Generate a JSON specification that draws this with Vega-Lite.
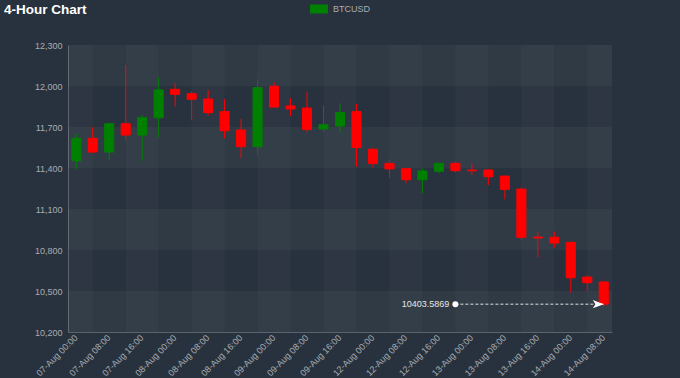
{
  "$schema": "https://vega.github.io/schema/vega-lite/v6.json",
  "width": 544,
  "height": 287,
  "autosize": "none",
  "padding": {"left": 68, "top": 45, "right": 68, "bottom": 46},
  "background": "#28323e",
  "title": {"text": "4-Hour Chart", "anchor": "start", "frame": "group", "dx": -64, "dy": 27, "offset": 0, "baseline": "alphabetic", "fontSize": 13.5, "fontWeight": "bold", "color": "#ffffff", "font": "Liberation Sans"},
  "config": {
    "view": {"fill": "#2f3944", "stroke": null},
    "font": "Liberation Sans",
    "axis": {"labelFont": "Liberation Sans", "labelFontSize": 9, "labelColor": "#a8adb2", "ticks": false, "grid": false, "domainColor": "#5a636d", "domainWidth": 1},
    "axisX": {"labelOffset": -3, "labelPadding": 1}
  },
  "datasets": {
    "candles": [
      {"t": "07-Aug 00:00", "o": 11453, "h": 11654, "l": 11390, "c": 11617},
      {"t": "07-Aug 04:00", "o": 11617, "h": 11698, "l": 11508, "c": 11517},
      {"t": "07-Aug 08:00", "o": 11517, "h": 11731, "l": 11453, "c": 11724},
      {"t": "07-Aug 12:00", "o": 11724, "h": 12154, "l": 11600, "c": 11641},
      {"t": "07-Aug 16:00", "o": 11641, "h": 11786, "l": 11453, "c": 11768},
      {"t": "07-Aug 20:00", "o": 11768, "h": 12064, "l": 11625, "c": 11971},
      {"t": "08-Aug 00:00", "o": 11976, "h": 12020, "l": 11849, "c": 11939},
      {"t": "08-Aug 04:00", "o": 11944, "h": 11961, "l": 11749, "c": 11903},
      {"t": "08-Aug 08:00", "o": 11905, "h": 11971, "l": 11783, "c": 11805},
      {"t": "08-Aug 12:00", "o": 11812, "h": 11903, "l": 11617, "c": 11673},
      {"t": "08-Aug 16:00", "o": 11678, "h": 11759, "l": 11471, "c": 11556},
      {"t": "08-Aug 20:00", "o": 11556, "h": 12049, "l": 11493, "c": 11988},
      {"t": "09-Aug 00:00", "o": 11998, "h": 12031, "l": 11843, "c": 11846},
      {"t": "09-Aug 04:00", "o": 11854, "h": 11910, "l": 11780, "c": 11832},
      {"t": "09-Aug 08:00", "o": 11839, "h": 11958, "l": 11661, "c": 11683},
      {"t": "09-Aug 12:00", "o": 11685, "h": 11856, "l": 11666, "c": 11717},
      {"t": "09-Aug 16:00", "o": 11707, "h": 11873, "l": 11661, "c": 11805},
      {"t": "09-Aug 20:00", "o": 11812, "h": 11868, "l": 11410, "c": 11551},
      {"t": "12-Aug 00:00", "o": 11537, "h": 11546, "l": 11405, "c": 11434},
      {"t": "12-Aug 04:00", "o": 11434, "h": 11464, "l": 11325, "c": 11393},
      {"t": "12-Aug 08:00", "o": 11395, "h": 11400, "l": 11288, "c": 11314},
      {"t": "12-Aug 12:00", "o": 11314, "h": 11398, "l": 11215, "c": 11378},
      {"t": "12-Aug 16:00", "o": 11376, "h": 11436, "l": 11361, "c": 11434},
      {"t": "12-Aug 20:00", "o": 11434, "h": 11451, "l": 11366, "c": 11380},
      {"t": "13-Aug 00:00", "o": 11385, "h": 11434, "l": 11349, "c": 11380},
      {"t": "13-Aug 04:00", "o": 11385, "h": 11393, "l": 11276, "c": 11336},
      {"t": "13-Aug 08:00", "o": 11341, "h": 11341, "l": 11171, "c": 11244},
      {"t": "13-Aug 12:00", "o": 11246, "h": 11259, "l": 10868, "c": 10893},
      {"t": "13-Aug 16:00", "o": 10895, "h": 10934, "l": 10747, "c": 10888},
      {"t": "13-Aug 20:00", "o": 10893, "h": 10934, "l": 10817, "c": 10851},
      {"t": "14-Aug 00:00", "o": 10856, "h": 10859, "l": 10488, "c": 10597},
      {"t": "14-Aug 04:00", "o": 10602, "h": 10615, "l": 10500, "c": 10561},
      {"t": "14-Aug 08:00", "o": 10566, "h": 10570, "l": 10385, "c": 10403.5869}
    ],
    "rows": [
      {"lo": 12000, "hi": 12300},
      {"lo": 11400, "hi": 11700},
      {"lo": 10800, "hi": 11100},
      {"lo": 10200, "hi": 10500}
    ],
    "cols": [
      {"t": "07-Aug 00:00"}, {"t": "07-Aug 16:00"}, {"t": "08-Aug 08:00"}, {"t": "09-Aug 00:00"}, {"t": "09-Aug 16:00"},
      {"t": "12-Aug 08:00"}, {"t": "13-Aug 00:00"}, {"t": "13-Aug 16:00"}, {"t": "14-Aug 08:00"}
    ],
    "annot": [
      {"t": "12-Aug 20:00", "t2": "14-Aug 08:00", "price": 10403.5869}
    ],
    "series": [{"series": "BTCUSD"}]
  },
  "layer": [
    {
      "data": {"name": "rows"},
      "mark": {"type": "rect", "color": "#ffffff", "opacity": 0.04},
      "encoding": {
        "y": {"field": "lo", "type": "quantitative", "title": null, "scale": {"domain": [10200, 12300], "nice": false, "zero": false},
          "axis": {"title": null, "values": [10200, 10500, 10800, 11100, 11400, 11700, 12000, 12300], "format": ",d", "labelPadding": 6}},
        "y2": {"field": "hi"}
      }
    },
    {
      "data": {"name": "cols"},
      "mark": {"type": "rect", "color": "#ffffff", "opacity": 0.025, "width": {"band": 2}, "clip": true},
      "encoding": {
        "x": {"field": "t", "type": "nominal", "title": null,
          "scale": {"type": "band", "paddingInner": 0, "paddingOuter": 0, "domain": ["07-Aug 00:00","07-Aug 04:00","07-Aug 08:00","07-Aug 12:00","07-Aug 16:00","07-Aug 20:00","08-Aug 00:00","08-Aug 04:00","08-Aug 08:00","08-Aug 12:00","08-Aug 16:00","08-Aug 20:00","09-Aug 00:00","09-Aug 04:00","09-Aug 08:00","09-Aug 12:00","09-Aug 16:00","09-Aug 20:00","12-Aug 00:00","12-Aug 04:00","12-Aug 08:00","12-Aug 12:00","12-Aug 16:00","12-Aug 20:00","13-Aug 00:00","13-Aug 04:00","13-Aug 08:00","13-Aug 12:00","13-Aug 16:00","13-Aug 20:00","14-Aug 00:00","14-Aug 04:00","14-Aug 08:00"]},
          "axis": {"title": null, "labelAngle": -45, "values": ["07-Aug 00:00","07-Aug 08:00","07-Aug 16:00","08-Aug 00:00","08-Aug 08:00","08-Aug 16:00","09-Aug 00:00","09-Aug 08:00","09-Aug 16:00","12-Aug 00:00","12-Aug 08:00","12-Aug 16:00","13-Aug 00:00","13-Aug 08:00","13-Aug 16:00","14-Aug 00:00","14-Aug 08:00"]}}
      }
    },
    {
      "data": {"name": "candles"},
      "mark": {"type": "rule", "strokeWidth": 1},
      "encoding": {
        "x": {"field": "t", "type": "nominal", "title": null,
          "scale": {"type": "band", "paddingInner": 0, "paddingOuter": 0, "domain": ["07-Aug 00:00","07-Aug 04:00","07-Aug 08:00","07-Aug 12:00","07-Aug 16:00","07-Aug 20:00","08-Aug 00:00","08-Aug 04:00","08-Aug 08:00","08-Aug 12:00","08-Aug 16:00","08-Aug 20:00","09-Aug 00:00","09-Aug 04:00","09-Aug 08:00","09-Aug 12:00","09-Aug 16:00","09-Aug 20:00","12-Aug 00:00","12-Aug 04:00","12-Aug 08:00","12-Aug 12:00","12-Aug 16:00","12-Aug 20:00","13-Aug 00:00","13-Aug 04:00","13-Aug 08:00","13-Aug 12:00","13-Aug 16:00","13-Aug 20:00","14-Aug 00:00","14-Aug 04:00","14-Aug 08:00"]},
          "axis": {"title": null, "labelAngle": -45, "values": ["07-Aug 00:00","07-Aug 08:00","07-Aug 16:00","08-Aug 00:00","08-Aug 08:00","08-Aug 16:00","09-Aug 00:00","09-Aug 08:00","09-Aug 16:00","12-Aug 00:00","12-Aug 08:00","12-Aug 16:00","13-Aug 00:00","13-Aug 08:00","13-Aug 16:00","14-Aug 00:00","14-Aug 08:00"]}},
        "y": {"field": "l", "type": "quantitative", "title": null, "scale": {"domain": [10200, 12300], "nice": false, "zero": false},
          "axis": {"title": null, "values": [10200, 10500, 10800, 11100, 11400, 11700, 12000, 12300], "format": ",d", "labelPadding": 6}},
        "y2": {"field": "h"},
        "color": {"condition": {"test": "datum.c >= datum.o", "value": "#008000"}, "value": "#ff0000"}
      }
    },
    {
      "data": {"name": "candles"},
      "mark": {"type": "bar", "width": {"band": 0.55}, "strokeWidth": 1},
      "encoding": {
        "x": {"field": "t", "type": "nominal", "title": null,
          "scale": {"type": "band", "paddingInner": 0, "paddingOuter": 0, "domain": ["07-Aug 00:00","07-Aug 04:00","07-Aug 08:00","07-Aug 12:00","07-Aug 16:00","07-Aug 20:00","08-Aug 00:00","08-Aug 04:00","08-Aug 08:00","08-Aug 12:00","08-Aug 16:00","08-Aug 20:00","09-Aug 00:00","09-Aug 04:00","09-Aug 08:00","09-Aug 12:00","09-Aug 16:00","09-Aug 20:00","12-Aug 00:00","12-Aug 04:00","12-Aug 08:00","12-Aug 12:00","12-Aug 16:00","12-Aug 20:00","13-Aug 00:00","13-Aug 04:00","13-Aug 08:00","13-Aug 12:00","13-Aug 16:00","13-Aug 20:00","14-Aug 00:00","14-Aug 04:00","14-Aug 08:00"]},
          "axis": {"title": null, "labelAngle": -45, "values": ["07-Aug 00:00","07-Aug 08:00","07-Aug 16:00","08-Aug 00:00","08-Aug 08:00","08-Aug 16:00","09-Aug 00:00","09-Aug 08:00","09-Aug 16:00","12-Aug 00:00","12-Aug 08:00","12-Aug 16:00","13-Aug 00:00","13-Aug 08:00","13-Aug 16:00","14-Aug 00:00","14-Aug 08:00"]}},
        "y": {"field": "o", "type": "quantitative", "title": null, "scale": {"domain": [10200, 12300], "nice": false, "zero": false},
          "axis": {"title": null, "values": [10200, 10500, 10800, 11100, 11400, 11700, 12000, 12300], "format": ",d", "labelPadding": 6}},
        "y2": {"field": "c"},
        "fill": {"condition": {"test": "datum.c >= datum.o", "value": "#008000"}, "value": "#ff0000"},
        "stroke": {"condition": {"test": "datum.c >= datum.o", "value": "#008000"}, "value": "#ff0000"}
      }
    },
    {
      "data": {"name": "annot"},
      "mark": {"type": "rule", "strokeDash": [3, 2], "strokeWidth": 1, "color": "#e0e0e0"},
      "encoding": {
        "x": {"field": "t", "type": "nominal", "title": null,
          "scale": {"type": "band", "paddingInner": 0, "paddingOuter": 0, "domain": ["07-Aug 00:00","07-Aug 04:00","07-Aug 08:00","07-Aug 12:00","07-Aug 16:00","07-Aug 20:00","08-Aug 00:00","08-Aug 04:00","08-Aug 08:00","08-Aug 12:00","08-Aug 16:00","08-Aug 20:00","09-Aug 00:00","09-Aug 04:00","09-Aug 08:00","09-Aug 12:00","09-Aug 16:00","09-Aug 20:00","12-Aug 00:00","12-Aug 04:00","12-Aug 08:00","12-Aug 12:00","12-Aug 16:00","12-Aug 20:00","13-Aug 00:00","13-Aug 04:00","13-Aug 08:00","13-Aug 12:00","13-Aug 16:00","13-Aug 20:00","14-Aug 00:00","14-Aug 04:00","14-Aug 08:00"]},
          "axis": {"title": null, "labelAngle": -45, "values": ["07-Aug 00:00","07-Aug 08:00","07-Aug 16:00","08-Aug 00:00","08-Aug 08:00","08-Aug 16:00","09-Aug 00:00","09-Aug 08:00","09-Aug 16:00","12-Aug 00:00","12-Aug 08:00","12-Aug 16:00","13-Aug 00:00","13-Aug 08:00","13-Aug 16:00","14-Aug 00:00","14-Aug 08:00"]}},
        "x2": {"field": "t2"},
        "y": {"field": "price", "type": "quantitative", "title": null, "scale": {"domain": [10200, 12300], "nice": false, "zero": false},
          "axis": {"title": null, "values": [10200, 10500, 10800, 11100, 11400, 11700, 12000, 12300], "format": ",d", "labelPadding": 6}}
      }
    },
    {
      "data": {"name": "annot"},
      "mark": {"type": "point", "filled": true, "size": 36, "opacity": 1, "color": "#ffffff"},
      "encoding": {
        "x": {"field": "t", "type": "nominal", "title": null,
          "scale": {"type": "band", "paddingInner": 0, "paddingOuter": 0, "domain": ["07-Aug 00:00","07-Aug 04:00","07-Aug 08:00","07-Aug 12:00","07-Aug 16:00","07-Aug 20:00","08-Aug 00:00","08-Aug 04:00","08-Aug 08:00","08-Aug 12:00","08-Aug 16:00","08-Aug 20:00","09-Aug 00:00","09-Aug 04:00","09-Aug 08:00","09-Aug 12:00","09-Aug 16:00","09-Aug 20:00","12-Aug 00:00","12-Aug 04:00","12-Aug 08:00","12-Aug 12:00","12-Aug 16:00","12-Aug 20:00","13-Aug 00:00","13-Aug 04:00","13-Aug 08:00","13-Aug 12:00","13-Aug 16:00","13-Aug 20:00","14-Aug 00:00","14-Aug 04:00","14-Aug 08:00"]},
          "axis": {"title": null, "labelAngle": -45, "values": ["07-Aug 00:00","07-Aug 08:00","07-Aug 16:00","08-Aug 00:00","08-Aug 08:00","08-Aug 16:00","09-Aug 00:00","09-Aug 08:00","09-Aug 16:00","12-Aug 00:00","12-Aug 08:00","12-Aug 16:00","13-Aug 00:00","13-Aug 08:00","13-Aug 16:00","14-Aug 00:00","14-Aug 08:00"]}},
        "y": {"field": "price", "type": "quantitative", "title": null, "scale": {"domain": [10200, 12300], "nice": false, "zero": false},
          "axis": {"title": null, "values": [10200, 10500, 10800, 11100, 11400, 11700, 12000, 12300], "format": ",d", "labelPadding": 6}}
      }
    },
    {
      "data": {"name": "annot"},
      "mark": {"type": "point", "filled": true, "size": 121, "opacity": 1, "color": "#ffffff", "shape": "M0,0L-2,-0.75L-1.5,0L-2,0.75Z"},
      "encoding": {
        "x": {"field": "t2", "type": "nominal", "title": null,
          "scale": {"type": "band", "paddingInner": 0, "paddingOuter": 0, "domain": ["07-Aug 00:00","07-Aug 04:00","07-Aug 08:00","07-Aug 12:00","07-Aug 16:00","07-Aug 20:00","08-Aug 00:00","08-Aug 04:00","08-Aug 08:00","08-Aug 12:00","08-Aug 16:00","08-Aug 20:00","09-Aug 00:00","09-Aug 04:00","09-Aug 08:00","09-Aug 12:00","09-Aug 16:00","09-Aug 20:00","12-Aug 00:00","12-Aug 04:00","12-Aug 08:00","12-Aug 12:00","12-Aug 16:00","12-Aug 20:00","13-Aug 00:00","13-Aug 04:00","13-Aug 08:00","13-Aug 12:00","13-Aug 16:00","13-Aug 20:00","14-Aug 00:00","14-Aug 04:00","14-Aug 08:00"]},
          "axis": {"title": null, "labelAngle": -45, "values": ["07-Aug 00:00","07-Aug 08:00","07-Aug 16:00","08-Aug 00:00","08-Aug 08:00","08-Aug 16:00","09-Aug 00:00","09-Aug 08:00","09-Aug 16:00","12-Aug 00:00","12-Aug 08:00","12-Aug 16:00","13-Aug 00:00","13-Aug 08:00","13-Aug 16:00","14-Aug 00:00","14-Aug 08:00"]}},
        "y": {"field": "price", "type": "quantitative", "title": null, "scale": {"domain": [10200, 12300], "nice": false, "zero": false},
          "axis": {"title": null, "values": [10200, 10500, 10800, 11100, 11400, 11700, 12000, 12300], "format": ",d", "labelPadding": 6}}
      }
    },
    {
      "data": {"name": "annot"},
      "mark": {"type": "text", "align": "right", "baseline": "middle", "dx": -6, "fontSize": 9, "color": "#e6e6e6", "font": "Liberation Sans"},
      "encoding": {
        "x": {"field": "t", "type": "nominal", "title": null,
          "scale": {"type": "band", "paddingInner": 0, "paddingOuter": 0, "domain": ["07-Aug 00:00","07-Aug 04:00","07-Aug 08:00","07-Aug 12:00","07-Aug 16:00","07-Aug 20:00","08-Aug 00:00","08-Aug 04:00","08-Aug 08:00","08-Aug 12:00","08-Aug 16:00","08-Aug 20:00","09-Aug 00:00","09-Aug 04:00","09-Aug 08:00","09-Aug 12:00","09-Aug 16:00","09-Aug 20:00","12-Aug 00:00","12-Aug 04:00","12-Aug 08:00","12-Aug 12:00","12-Aug 16:00","12-Aug 20:00","13-Aug 00:00","13-Aug 04:00","13-Aug 08:00","13-Aug 12:00","13-Aug 16:00","13-Aug 20:00","14-Aug 00:00","14-Aug 04:00","14-Aug 08:00"]},
          "axis": {"title": null, "labelAngle": -45, "values": ["07-Aug 00:00","07-Aug 08:00","07-Aug 16:00","08-Aug 00:00","08-Aug 08:00","08-Aug 16:00","09-Aug 00:00","09-Aug 08:00","09-Aug 16:00","12-Aug 00:00","12-Aug 08:00","12-Aug 16:00","13-Aug 00:00","13-Aug 08:00","13-Aug 16:00","14-Aug 00:00","14-Aug 08:00"]}},
        "y": {"field": "price", "type": "quantitative", "title": null, "scale": {"domain": [10200, 12300], "nice": false, "zero": false},
          "axis": {"title": null, "values": [10200, 10500, 10800, 11100, 11400, 11700, 12000, 12300], "format": ",d", "labelPadding": 6}},
        "text": {"field": "price", "type": "quantitative", "format": ".4f"}
      }
    },
    {
      "data": {"name": "series"},
      "mark": {"type": "point", "filled": true, "size": 0, "opacity": 1},
      "encoding": {
        "color": {"field": "series", "type": "nominal", "scale": {"range": ["#008000"]},
          "legend": {"orient": "none", "legendX": 242, "legendY": -45, "title": null, "symbolType": "M-1,-0.5H1V0.5H-1Z", "symbolSize": 324, "symbolStrokeWidth": 0, "labelFontSize": 9, "labelColor": "#a8adb2", "labelFont": "Liberation Sans", "labelOffset": 5, "padding": 0}}
      }
    }
  ]
}
